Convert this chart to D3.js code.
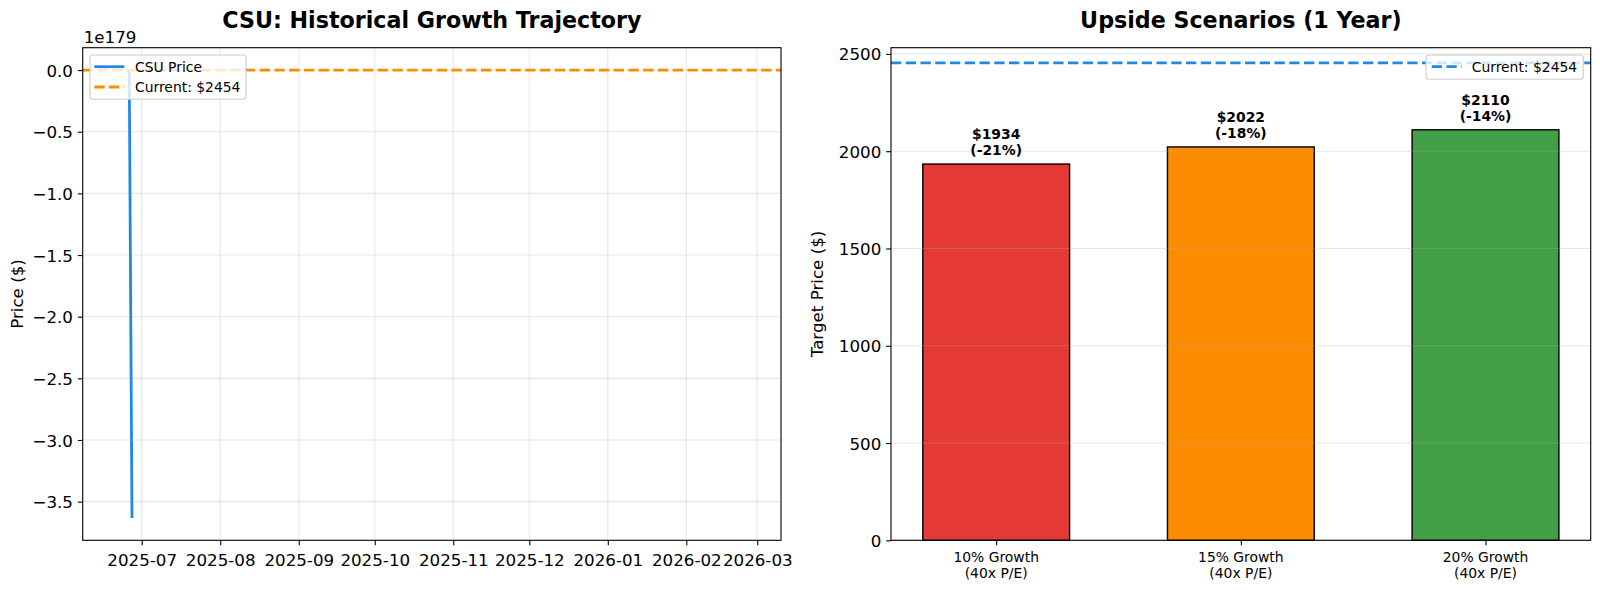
<!DOCTYPE html>
<html>
<head>
<meta charset="utf-8">
<script src="https://cdn.jsdelivr.net/npm/d3@7"></script>
<style>
  html, body { margin: 0; padding: 0; background: #ffffff; }
  svg { display: block; font-family: "DejaVu Sans", sans-serif; }
</style>
</head>
<body>
<svg id="chart" width="1600" height="590"></svg>
<script>
// ---------- Data ----------
// Left panel: historical trajectory (values overflowed to a huge negative number)
const priceDates = ["2025-06-26T02:00", "2025-06-27T04:00"];
const priceValues = [2400, -3.632e179];
const currentPrice = 2454;
const leftXDomain = ["2025-06-07T17:00", "2026-03-10T09:00"];
const leftXTicks = ["2025-07-01", "2025-08-01", "2025-09-01", "2025-10-01", "2025-11-01",
                    "2025-12-01", "2026-01-01", "2026-02-01", "2026-03-01"];
const leftXTickLabels = ["2025-07", "2025-08", "2025-09", "2025-10", "2025-11",
                         "2025-12", "2026-01", "2026-02", "2026-03"];
const leftYTicks = [0, -0.5e179, -1.0e179, -1.5e179, -2.0e179, -2.5e179, -3.0e179, -3.5e179];
const leftYTickLabels = ["0.0", "\u22120.5", "\u22121.0", "\u22121.5", "\u22122.0", "\u22122.5", "\u22123.0", "\u22123.5"];
const leftOffsetText = "1e179";

// Right panel: scenarios
const scenarioLabels = [["10% Growth", "(40x P/E)"], ["15% Growth", "(40x P/E)"], ["20% Growth", "(40x P/E)"]];
const scenarioValues = [1934, 2022, 2110];
const scenarioPct = ["-21%", "-18%", "-14%"];
const scenarioColors = ["#e53935", "#fb8c00", "#43a047"];
const rightYTicks = [0, 500, 1000, 1500, 2000, 2500];

// ---------- Layout ----------
const svg = d3.select("#chart");
const L = { x0: 82.7, x1: 781, y0: 47.7, y1: 540.3 };
const R = { x0: 891, x1: 1590.7, y0: 47.7, y1: 540.3 };
const gridColor = "#b0b0b0";
const tickLen = 4.86;
const pad = 4.86;

const parse = d3.isoParse;

// ---------- Left panel ----------
(function () {
  const x = d3.scaleTime().domain(leftXDomain.map(parse)).range([L.x0, L.x1]);
  const yMin = d3.min(priceValues), yMax = currentPrice;
  const m = (yMax - yMin) * 0.05;
  const y = d3.scaleLinear().domain([yMin - m, yMax + m]).range([L.y1, L.y0]);

  const g = svg.append("g");
  const clipId = "clipL";
  svg.append("clipPath").attr("id", clipId).append("rect")
    .attr("x", L.x0).attr("y", L.y0).attr("width", L.x1 - L.x0).attr("height", L.y1 - L.y0);

  // grid
  const grid = g.append("g");
  grid.selectAll("line.gx").data(leftXTicks).join("line")
    .attr("x1", d => x(parse(d))).attr("x2", d => x(parse(d)))
    .attr("y1", L.y0).attr("y2", L.y1)
    .attr("stroke", gridColor).attr("stroke-opacity", 0.3).attr("stroke-width", 1.1);
  grid.selectAll("line.gy").data(leftYTicks).join("line")
    .attr("y1", d => y(d)).attr("y2", d => y(d))
    .attr("x1", L.x0).attr("x2", L.x1)
    .attr("stroke", gridColor).attr("stroke-opacity", 0.3).attr("stroke-width", 1.1);

  // price line
  const lineData = priceDates.map((d, i) => ({ t: parse(d), v: priceValues[i] }));
  g.append("path").datum(lineData)
    .attr("clip-path", `url(#${clipId})`)
    .attr("fill", "none").attr("stroke", "#1e88e5").attr("stroke-width", 2.78)
    .attr("d", d3.line().x(d => x(d.t)).y(d => y(d.v)));

  // current price line
  g.append("line")
    .attr("x1", L.x0).attr("x2", L.x1).attr("y1", y(currentPrice)).attr("y2", y(currentPrice))
    .attr("stroke", "#fb8c00").attr("stroke-width", 2.78).attr("stroke-dasharray", "10.3,4.45");

  // spines
  g.append("rect").attr("x", L.x0).attr("y", L.y0).attr("width", L.x1 - L.x0).attr("height", L.y1 - L.y0)
    .attr("fill", "none").attr("stroke", "#000").attr("stroke-width", 1.1);

  // x axis
  const xa = g.append("g").attr("transform", `translate(0,${L.y1})`)
    .call(d3.axisBottom(x).tickValues(leftXTicks.map(parse)).tickSize(tickLen).tickPadding(pad)
      .tickFormat((d, i) => leftXTickLabels[i]));
  xa.select(".domain").remove();
  xa.selectAll(".tick line").attr("stroke", "#000").attr("stroke-width", 1.1);
  xa.selectAll(".tick text").attr("font-size", 16.7).attr("fill", "#000")
    .attr("font-family", "DejaVu Sans").attr("dy", "0.95em");

  // y axis
  const ya = g.append("g").attr("transform", `translate(${L.x0},0)`)
    .call(d3.axisLeft(y).tickValues(leftYTicks).tickSize(tickLen).tickPadding(pad)
      .tickFormat((d, i) => leftYTickLabels[i]));
  ya.select(".domain").remove();
  ya.selectAll(".tick line").attr("stroke", "#000").attr("stroke-width", 1.1);
  ya.selectAll(".tick text").attr("font-size", 16.7).attr("fill", "#000")
    .attr("font-family", "DejaVu Sans").attr("dy", "0.36em");

  // offset text
  g.append("text").attr("x", L.x0 + 1).attr("y", 43.3).attr("font-size", 16.7).text(leftOffsetText);

  // y label
  g.append("text").attr("transform", `translate(23.3,${(L.y0 + L.y1) / 2}) rotate(-90)`)
    .attr("text-anchor", "middle").attr("font-size", 16.7).text("Price ($)");

  // title
  g.append("text").attr("x", (L.x0 + L.x1) / 2).attr("y", 27.5).attr("text-anchor", "middle")
    .attr("font-size", 22.2).attr("font-weight", "bold").text("CSU: Historical Growth Trajectory");

  // legend
  const lg = g.append("g");
  lg.append("rect").attr("x", 90).attr("y", 55).attr("width", 156).attr("height", 44.3).attr("rx", 3)
    .attr("fill", "#fff").attr("fill-opacity", 0.8).attr("stroke", "#cccccc").attr("stroke-width", 1.1);
  const items = [
    { label: "CSU Price", color: "#1e88e5", dash: null },
    { label: "Current: $" + currentPrice, color: "#fb8c00", dash: "10.3,4.45" }
  ];
  items.forEach((it, i) => {
    const cy = 66.7 + i * 20.3;
    lg.append("line").attr("x1", 94.3).attr("x2", 124.3).attr("y1", cy).attr("y2", cy)
      .attr("stroke", it.color).attr("stroke-width", 2.78).attr("stroke-dasharray", it.dash);
    lg.append("text").attr("x", 135).attr("y", cy).attr("dy", "0.36em").attr("font-size", 13.9).text(it.label);
  });
})();

// ---------- Right panel ----------
(function () {
  const n = scenarioValues.length;
  const x = d3.scaleLinear().domain([-0.43, n - 1 + 0.43]).range([R.x0, R.x1]);
  const y = d3.scaleLinear().domain([0, d3.max(scenarioValues) * 1.2]).range([R.y1, R.y0]);
  const bw = 0.6;

  const g = svg.append("g");

  // bars
  g.selectAll("rect.bar").data(scenarioValues).join("rect")
    .attr("x", (d, i) => x(i - bw / 2)).attr("width", (d, i) => x(i + bw / 2) - x(i - bw / 2))
    .attr("y", d => y(d)).attr("height", d => y(0) - y(d))
    .attr("fill", (d, i) => scenarioColors[i]).attr("stroke", "#000").attr("stroke-width", 1.4);

  // grid (y only, over bars)
  g.selectAll("line.gy").data(rightYTicks).join("line")
    .attr("y1", d => y(d)).attr("y2", d => y(d)).attr("x1", R.x0).attr("x2", R.x1)
    .attr("stroke", gridColor).attr("stroke-opacity", 0.3).attr("stroke-width", 1.1);

  // bar labels
  scenarioValues.forEach((v, i) => {
    const t = g.append("text").attr("text-anchor", "middle").attr("font-size", 13.9).attr("font-weight", "bold");
    t.append("tspan").attr("x", x(i)).attr("y", y(v) - 24.8).text("$" + v);
    t.append("tspan").attr("x", x(i)).attr("y", y(v) - 9.2).text("(" + scenarioPct[i] + ")");
  });

  // current line
  g.append("line").attr("x1", R.x0).attr("x2", R.x1).attr("y1", y(currentPrice)).attr("y2", y(currentPrice))
    .attr("stroke", "#1e88e5").attr("stroke-width", 2.78).attr("stroke-dasharray", "10.3,4.45");

  // spines
  g.append("rect").attr("x", R.x0).attr("y", R.y0).attr("width", R.x1 - R.x0).attr("height", R.y1 - R.y0)
    .attr("fill", "none").attr("stroke", "#000").attr("stroke-width", 1.1);

  // x axis
  const xa = g.append("g").attr("transform", `translate(0,${R.y1})`)
    .call(d3.axisBottom(x).tickValues(d3.range(n)).tickSize(tickLen).tickFormat(""));
  xa.select(".domain").remove();
  xa.selectAll(".tick line").attr("stroke", "#000").attr("stroke-width", 1.1);
  scenarioLabels.forEach((lines, i) => {
    const t = g.append("text").attr("text-anchor", "middle").attr("font-size", 13.9);
    lines.forEach((s, j) => t.append("tspan").attr("x", x(i)).attr("y", 562.3 + j * 16).text(s));
  });

  // y axis
  const ya = g.append("g").attr("transform", `translate(${R.x0},0)`)
    .call(d3.axisLeft(y).tickValues(rightYTicks).tickSize(tickLen).tickPadding(pad).tickFormat(d3.format("d")));
  ya.select(".domain").remove();
  ya.selectAll(".tick line").attr("stroke", "#000").attr("stroke-width", 1.1);
  ya.selectAll(".tick text").attr("font-size", 16.7).attr("fill", "#000")
    .attr("font-family", "DejaVu Sans").attr("dy", "0.36em");

  // y label
  g.append("text").attr("transform", `translate(823.3,${(R.y0 + R.y1) / 2}) rotate(-90)`)
    .attr("text-anchor", "middle").attr("font-size", 16.7).text("Target Price ($)");

  // title
  g.append("text").attr("x", (R.x0 + R.x1) / 2).attr("y", 27.5).attr("text-anchor", "middle")
    .attr("font-size", 22.2).attr("font-weight", "bold").text("Upside Scenarios (1 Year)");

  // legend
  const lg = g.append("g");
  lg.append("rect").attr("x", 1426).attr("y", 55).attr("width", 157.3).attr("height", 24.3).attr("rx", 3)
    .attr("fill", "#fff").attr("fill-opacity", 0.8).attr("stroke", "#cccccc").attr("stroke-width", 1.1);
  lg.append("line").attr("x1", 1431.7).attr("x2", 1461.7).attr("y1", 66.7).attr("y2", 66.7)
    .attr("stroke", "#1e88e5").attr("stroke-width", 2.78).attr("stroke-dasharray", "10.3,4.45");
  lg.append("text").attr("x", 1471.7).attr("y", 66.7).attr("dy", "0.36em").attr("font-size", 13.9)
    .text("Current: $" + currentPrice);
})();
</script>
</body>
</html>
